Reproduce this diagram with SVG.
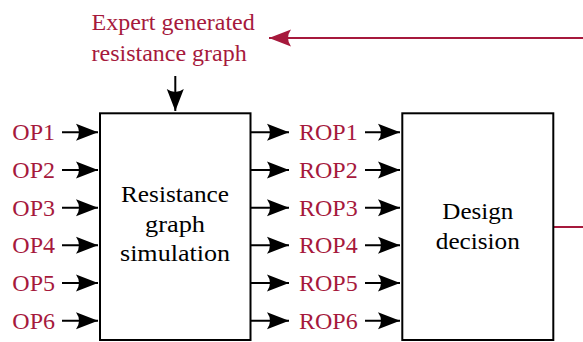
<svg xmlns="http://www.w3.org/2000/svg" width="583" height="342" viewBox="0 0 583 342">
<style>
.box{fill:#fff;stroke:#000;stroke-width:2}
.ln{fill:none;stroke:#000;stroke-width:2}
.rln{fill:none;stroke:#A6193C;stroke-width:2}
.lbl{font-family:"Liberation Serif","Times New Roman",serif;font-size:24px;fill:#A6193C}
.txt{font-family:"Liberation Serif","Times New Roman",serif;font-size:23px;fill:#000;text-anchor:middle}
</style>
<defs>
<marker id="ah" markerUnits="userSpaceOnUse" viewBox="-23 -10 24 20" refX="0" refY="0" markerWidth="24" markerHeight="20" orient="auto">
<path d="M0,0 L-22,-8.5 Q-16,0 -22,8.5 Z" fill="#000"/>
</marker>
<marker id="ahr" markerUnits="userSpaceOnUse" viewBox="-23 -10 24 20" refX="0" refY="0" markerWidth="24" markerHeight="20" orient="auto">
<path d="M0,0 L-22,-8.5 Q-16,0 -22,8.5 Z" fill="#A6193C"/>
</marker>
</defs>
<g id="connectors">
<path class="ln" d="M62,132.3 H98" marker-end="url(#ah)"/>
<path class="ln" d="M62,170 H98" marker-end="url(#ah)"/>
<path class="ln" d="M62,207.7 H98" marker-end="url(#ah)"/>
<path class="ln" d="M62,245.3 H98" marker-end="url(#ah)"/>
<path class="ln" d="M62,283 H98" marker-end="url(#ah)"/>
<path class="ln" d="M62,320.7 H98" marker-end="url(#ah)"/>
<path class="ln" d="M250,132.3 H289" marker-end="url(#ah)"/>
<path class="ln" d="M250,170 H289" marker-end="url(#ah)"/>
<path class="ln" d="M250,207.7 H289" marker-end="url(#ah)"/>
<path class="ln" d="M250,245.3 H289" marker-end="url(#ah)"/>
<path class="ln" d="M250,283 H289" marker-end="url(#ah)"/>
<path class="ln" d="M250,320.7 H289" marker-end="url(#ah)"/>
<path class="ln" d="M365,132.3 H400" marker-end="url(#ah)"/>
<path class="ln" d="M365,170 H400" marker-end="url(#ah)"/>
<path class="ln" d="M365,207.7 H400" marker-end="url(#ah)"/>
<path class="ln" d="M365,245.3 H400" marker-end="url(#ah)"/>
<path class="ln" d="M365,283 H400" marker-end="url(#ah)"/>
<path class="ln" d="M365,320.7 H400" marker-end="url(#ah)"/>
<path class="ln" d="M175.3,76 V111" marker-end="url(#ah)"/>
<path class="rln" d="M553,227 H583"/>
<path class="rln" d="M583,38 H269" marker-end="url(#ahr)"/>
</g>
<g id="title">
<text class="lbl" x="91.5" y="29.5">Expert generated</text>
<text class="lbl" x="91.5" y="61">resistance graph</text>
</g>
<g id="inputs">
<text class="lbl" x="55" y="140.3" text-anchor="end">OP1</text>
<text class="lbl" x="55" y="178" text-anchor="end">OP2</text>
<text class="lbl" x="55" y="215.7" text-anchor="end">OP3</text>
<text class="lbl" x="55" y="253.3" text-anchor="end">OP4</text>
<text class="lbl" x="55" y="291" text-anchor="end">OP5</text>
<text class="lbl" x="55" y="328.7" text-anchor="end">OP6</text>
</g>
<g id="simulation">
<rect class="box" x="100" y="113.3" width="150.5" height="226.7"/>
<text class="txt" x="175" y="201.7" textLength="108" lengthAdjust="spacingAndGlyphs">Resistance</text>
<text class="txt" x="175" y="231.5" textLength="60" lengthAdjust="spacingAndGlyphs">graph</text>
<text class="txt" x="175" y="261" textLength="110" lengthAdjust="spacingAndGlyphs">simulation</text>
</g>
<g id="outputs">
<text class="lbl" x="299" y="140.3">ROP1</text>
<text class="lbl" x="299" y="178">ROP2</text>
<text class="lbl" x="299" y="215.7">ROP3</text>
<text class="lbl" x="299" y="253.3">ROP4</text>
<text class="lbl" x="299" y="291">ROP5</text>
<text class="lbl" x="299" y="328.7">ROP6</text>
</g>
<g id="decision">
<rect class="box" x="402.3" y="113.3" width="151" height="226.7"/>
<text class="txt" x="477.8" y="219.3" textLength="71" lengthAdjust="spacingAndGlyphs">Design</text>
<text class="txt" x="477.8" y="249.3" textLength="84" lengthAdjust="spacingAndGlyphs">decision</text>
</g>
</svg>
